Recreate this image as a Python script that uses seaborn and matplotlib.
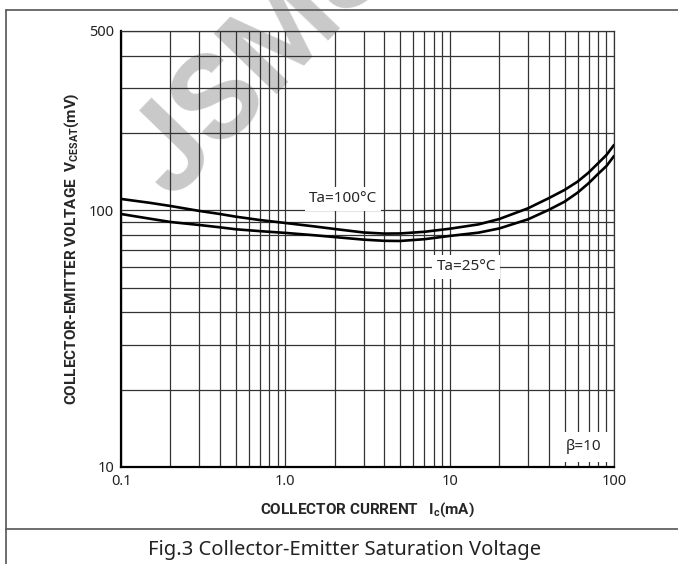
# Collector-Emitter saturation voltage vs collector current (datasheet Fig.3)

import pandas as pd
import matplotlib.pyplot as plt
import seaborn as sns
from matplotlib.lines import Line2D

# values
ic_ma = [0.1, 0.15, 0.2, 0.3, 0.4, 0.5, 0.7, 1.0, 1.5, 2.0, 3.0, 4.0, 5.0, 7.0,
         10, 15, 20, 30, 40, 50, 60, 70, 80, 90, 100]
vce_100c = [110.8, 107.0, 104.0, 99.5, 96.8, 94.5, 91.7, 89.3, 86.6, 84.6, 82.0, 81.2,
            81.3, 82.5, 84.8, 88.2, 92.5, 101.9, 111.5, 120.1, 129.4, 140.3, 152.6,
            164.4, 179.8]
vce_25c = [96.8, 92.8, 90.1, 87.7, 85.9, 84.4, 83.0, 81.7, 80.0, 78.7, 76.9, 76.1,
           76.0, 77.2, 79.5, 81.9, 85.0, 92.3, 100.4, 108.1, 117.2, 127.5, 138.7,
           148.9, 162.9]

x_ticks = [0.1, 1, 10, 100]
x_tick_labels = ["0.1", "1.0", "10", "100"]
y_ticks = [10, 100, 500]
y_tick_labels = ["10", "100", "500"]

df = pd.DataFrame({
    "ic": ic_ma * 2,
    "vce": vce_100c + vce_25c,
    "temp": ["Ta=100°C"] * len(ic_ma) + ["Ta=25°C"] * len(ic_ma),
})

sns.set_style("white")
plt.rcParams['font.family'] = ['Noto Sans', 'DejaVu Sans']
plt.rcParams['mathtext.fontset'] = 'custom'
plt.rcParams['mathtext.rm'] = 'Noto Sans'
plt.rcParams['mathtext.bf'] = 'Roboto:bold'

fig = plt.figure(figsize=(6.78, 5.64), dpi=100)
ax = fig.add_axes([121 / 678, 1 - 467 / 564, 493 / 678, 436 / 564])
ax.set_facecolor('none')

sns.lineplot(data=df, x="ic", y="vce", hue="temp", palette=["black", "black"],
             linewidth=1.9, legend=False, ax=ax, zorder=3)

ax.set_xscale("log")
ax.set_yscale("log")
ax.set_xlim(0.1, 100)
ax.set_ylim(10, 500)

ax.set_xticks(x_ticks)
ax.set_xticklabels(x_tick_labels)
ax.set_yticks(y_ticks)
ax.set_yticklabels(y_tick_labels)
ax.minorticks_on()
ax.tick_params(which='both', length=0, labelsize=10.5, colors='#222222')
ax.tick_params(axis='x', pad=5)
ax.tick_params(axis='y', pad=5)
ax.yaxis.set_minor_formatter(plt.NullFormatter())
ax.xaxis.set_minor_formatter(plt.NullFormatter())

ax.grid(True, which='both', color='#333333', linewidth=0.9)
ax.set_axisbelow(True)
for side in ['top', 'right']:
    ax.spines[side].set_color('#333333')
    ax.spines[side].set_linewidth(0.9)
for side in ['left', 'bottom']:
    ax.spines[side].set_color('black')
    ax.spines[side].set_linewidth(1.6)

ax.set_xlabel(r"COLLECTOR CURRENT   $\mathbf{I_c}$$\mathbf{(mA)}$", fontsize=11,
              family='Roboto', fontweight='bold', labelpad=8)
ax.set_ylabel(r"COLLECTOR-EMITTER VOLTAGE  $\mathbf{V_{CESAT}}$$\mathbf{(mV)}$",
              fontsize=11, family='Roboto', fontweight='bold', labelpad=6)

box = dict(facecolor='white', edgecolor='none', pad=3.0)
ax.text(2.25, 110.8, "Ta=100°C", fontsize=11, ha='center', va='center',
        bbox=box, zorder=4)
ax.text(12.6, 60.2, "Ta=25°C", fontsize=11, ha='center', va='center',
        bbox=box, zorder=4)
ax.text(65, 12.0, "β=10", fontsize=11, ha='center', va='center',
        bbox=dict(facecolor='white', edgecolor='none', pad=5.5), zorder=4)

# watermark
fig.text(172 / 678, 1 - 200 / 564, "JSMSEMI", fontsize=88, family='Roboto',
         fontweight='bold', color='#c9c9c9', rotation=46, rotation_mode='anchor',
         ha='left', va='baseline', zorder=-1)

# page frame
frame = dict(color='#555555', linewidth=1.2, transform=fig.transFigure)
fig.add_artist(Line2D([6 / 678, 1], [1 - 10 / 564, 1 - 10 / 564], **frame))
fig.add_artist(Line2D([6 / 678, 6 / 678], [0, 1 - 10 / 564], **frame))
fig.add_artist(Line2D([6 / 678, 1], [1 - 529 / 564, 1 - 529 / 564], **frame))

fig.text(345 / 678, 1 - 550 / 564, "Fig.3 Collector-Emitter Saturation Voltage",
         fontsize=14.5, ha='center', va='center', color='#222222')

plt.savefig("out.png", dpi=100)
